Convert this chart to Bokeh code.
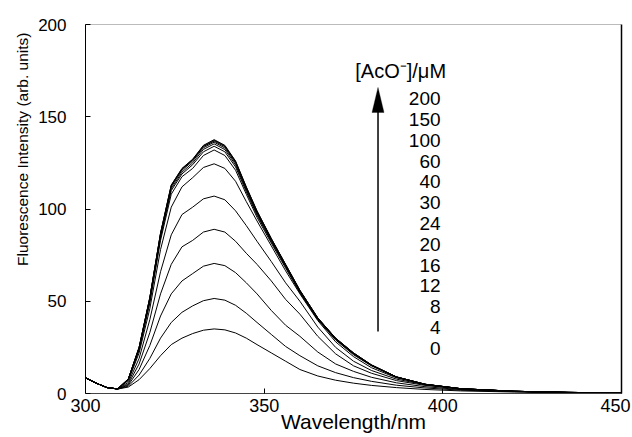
from bokeh.plotting import figure
from bokeh.models import Range1d, LinearAxis, Label, FixedTicker, PolyAnnotation, Title
from bokeh.embed import file_html
from bokeh.resources import INLINE
from bokeh.core.properties import value

# ---------------- data ----------------
wavelength = [300, 303, 306, 309, 312, 315, 318, 321, 324, 327, 330, 333, 336, 339, 342,
              345, 348, 352, 356, 360, 365, 370, 375, 380, 387, 395, 405, 420, 435, 450]

spec_0 = [8.5, 5.6, 3.3, 2.4, 3.5, 7.5, 13.5, 20.5, 26.5, 30, 32.5, 34.3, 35, 34.5, 32.8,
          30, 26.5, 22, 17.5, 13, 9.5, 7.2, 5.6, 4.4, 3.2, 2.2, 1.4, 0.8, 0.4, 0.2]
spec_4 = [8.5, 5.6, 3.3, 2.4, 4.0, 10, 19, 30, 38.5, 44, 47.5, 50.3, 51.5, 50.6, 47.8,
          43.5, 38.5, 32, 25.5, 20.5, 15, 11.3, 8.6, 6.6, 4.5, 3.0, 1.8, 1.0, 0.5, 0.25]
spec_8 = [8.5, 5.6, 3.2, 2.4, 4.6, 13, 26, 42, 54, 61, 65, 69, 70.5, 69.3, 65.5,
          60, 54, 45, 37, 31, 22.5, 16, 12, 8.8, 5.8, 3.7, 2.1, 1.1, 0.55, 0.25]
spec_12 = [8.5, 5.6, 3.2, 2.4, 5.2, 16, 33, 54, 70, 79.5, 83, 87.5, 89, 87.5, 82.5,
           76, 70, 61, 51, 43, 31, 21.5, 15, 11, 7, 4.4, 2.4, 1.2, 0.6, 0.3]
spec_16 = [8.5, 5.6, 3.2, 2.5, 6, 19, 40, 66, 86, 97, 101, 105.5, 107, 105, 99,
           91, 82.5, 71.5, 60, 50, 36, 25, 17.5, 12.5, 7.8, 4.7, 2.5, 1.2, 0.6, 0.3]
spec_20 = [8.5, 5.6, 3.2, 2.5, 7, 22, 46, 78, 101, 112, 117, 122.5, 124.5, 122, 115,
           104, 93.5, 80, 66.5, 54, 39.5, 28, 20, 14, 8.5, 4.9, 2.6, 1.2, 0.6, 0.3]
spec_24 = [8.5, 5.6, 3.2, 2.5, 7.5, 23.5, 49, 83, 108, 117.5, 122, 129, 132, 129, 121,
           108, 95.5, 81.5, 68, 54.5, 40, 29, 21, 15, 8.8, 5, 2.6, 1.2, 0.6, 0.3]
spec_30 = [8.5, 5.6, 3.2, 2.5, 7.7, 24, 50, 84.5, 110, 119, 124, 131, 134, 131, 122.8,
           109.3, 96.6, 82.3, 68.7, 55, 40.3, 29.3, 21.4, 15.2, 8.9, 5, 2.6, 1.2, 0.6, 0.3]
spec_40 = [8.5, 5.6, 3.2, 2.5, 7.8, 24.5, 51, 85.5, 111, 120, 125, 132.3, 135.3, 132.2, 123.9,
           110.2, 97.3, 82.8, 69.1, 55.3, 40.6, 29.6, 21.6, 15.3, 8.9, 5, 2.6, 1.2, 0.6, 0.3]
spec_60 = [8.5, 5.6, 3.2, 2.5, 7.9, 24.7, 51.5, 86.2, 112, 121, 126, 133.2, 136.2, 133.1, 124.8,
           110.9, 98, 83.3, 69.5, 55.6, 40.8, 29.8, 21.8, 15.4, 9, 5, 2.6, 1.2, 0.6, 0.3]
spec_100 = [8.5, 5.6, 3.2, 2.5, 8, 24.9, 51.8, 86.6, 112.5, 121.5, 126.5, 133.8, 136.8, 133.8, 125.4,
            111.5, 98.5, 83.7, 69.8, 55.8, 40.9, 29.9, 21.9, 15.5, 9, 5, 2.6, 1.2, 0.6, 0.3]
spec_150 = [8.5, 5.6, 3.2, 2.5, 8, 25, 52, 86.8, 112.8, 121.8, 126.8, 134.2, 137.2, 134.2, 125.7,
            111.8, 98.8, 83.9, 69.9, 55.9, 41, 30, 22, 15.5, 9, 5, 2.6, 1.2, 0.6, 0.3]
spec_200 = [8.5, 5.6, 3.2, 2.5, 8, 25, 52, 87, 113, 122, 127, 134.5, 137.6, 134.5, 126,
            112, 99, 84, 70, 56, 41, 30, 22, 15.5, 9, 5, 2.6, 1.2, 0.6, 0.3]

concentrations = [0, 4, 8, 12, 16, 20, 24, 30, 40, 60, 100, 150, 200]
spectra = [spec_0, spec_4, spec_8, spec_12, spec_16, spec_20, spec_24,
           spec_30, spec_40, spec_60, spec_100, spec_150, spec_200]

x_ticks = [300, 350, 400, 450]
x_tick_labels = ["300", "350", "400", "450"]
y_ticks = [0, 50, 100, 150, 200]

FONT = "Liberation Sans"
W, H = 632, 437

# ---------------- figure ----------------
p = figure(width=W, height=H, output_backend="svg", toolbar_location=None,
           x_range=Range1d(300, 450), y_range=Range1d(0, 200),
           min_border_left=85, min_border_right=11, min_border_top=24, min_border_bottom=44)
p.outline_line_color = None
p.xgrid.visible = False
p.ygrid.visible = False
p.background_fill_color = "white"
p.border_fill_color = "white"

for s in spectra:
    p.line(wavelength, s, line_color="black", line_width=1)

# bottom axis: labels at the major positions (last one pulled inside the window as in
# the reference), inward tick marks drawn as minor ticks at the true tick values
label_pos = [300, 350, 400, 448.3]
xa = p.xaxis[0]
xa.ticker = FixedTicker(ticks=label_pos, minor_ticks=x_ticks[1:-1])
xa.major_label_overrides = {t: s for t, s in zip(label_pos, x_tick_labels)}
xa.major_tick_line_color = None
xa.major_tick_in = 0
xa.major_tick_out = 0
xa.minor_tick_line_color = "black"
xa.minor_tick_in = 5
xa.minor_tick_out = 0
xa.axis_line_color = "#444444"
xa.major_label_standoff = 5
xa.major_label_text_font = FONT
xa.major_label_text_font_size = "18px"
xa.major_label_text_color = "black"
xa.axis_label = "Wavelength/nm"
xa.axis_label_standoff = -5
xa.axis_label_text_font = FONT
xa.axis_label_text_font_size = "21px"
xa.axis_label_text_font_style = "normal"
xa.axis_label_text_color = "black"

ya = p.yaxis[0]
ya.ticker = FixedTicker(ticks=y_ticks)
ya.major_tick_in = 5
ya.major_tick_out = 0
ya.minor_tick_line_color = None
ya.major_tick_line_color = "black"
ya.axis_line_color = "black"
ya.major_label_text_font = FONT
ya.major_label_text_font_size = "17px"
ya.major_label_text_color = "black"
ya.major_label_standoff = 19

top_ax = LinearAxis(ticker=FixedTicker(ticks=[]), axis_line_color="#777777",
                    axis_line_dash="1 1", minor_tick_line_color=None,
                    major_tick_line_color=None)
right_ax = LinearAxis(ticker=FixedTicker(ticks=[]), axis_line_color="black",
                      axis_line_width=1.5, minor_tick_line_color=None,
                      major_tick_line_color=None)
p.add_layout(top_ax, "above")
p.add_layout(right_ax, "right")

# y axis title (placed towards the top, as in the reference)
p.add_layout(Title(text="Fluorescence Intensity (arb. units)", align="right", offset=8,
                   text_font=FONT, text_font_size="15.5px", text_font_style="normal",
                   text_color="black", standoff=9), "left")

# concentration legend
label_x = [399.35] * len(concentrations)
label_y = [159.7 - 11.26 * i for i in range(len(concentrations))]
p.text(x=label_x, y=label_y, text=[str(c) for c in reversed(concentrations)],
       text_align="right", text_baseline="middle", text_font=value(FONT),
       text_font_size="19px", text_color="black")
p.add_layout(Label(x=388.2, y=175.0, text="[AcO\u207b]/\u03bcM", text_align="center",
                   text_baseline="middle", text_font=FONT, text_font_size="20px",
                   text_color="black"))

# arrow
p.segment(x0=[381.86], y0=[33.6], x1=[381.86], y1=[153.0], line_color="black", line_width=1.5)
p.add_layout(PolyAnnotation(xs=[380.18, 381.86, 383.54], ys=[152.3, 165.9, 152.3],
                            fill_color="black", fill_alpha=1.0, line_color="black"))

open("out.html", "w").write(file_html(p, INLINE))
